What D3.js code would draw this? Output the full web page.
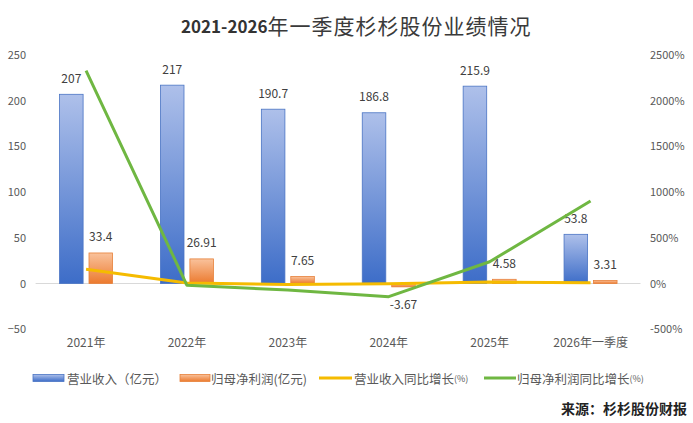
<!DOCTYPE html>
<html>
<head>
<meta charset="utf-8">
<script src="https://cdn.jsdelivr.net/npm/d3@7"></script>
<style>
  body { margin: 0; background: #fff; }
  svg { display: block; font-family: "Noto Sans CJK SC", "Noto Sans", sans-serif; }
</style>
</head>
<body>
<div id="chart"></div>
<script>
const categories = ['2021年', '2022年', '2023年', '2024年', '2025年', '2026年一季度']
const revenue = [207, 217, 190.7, 186.8, 215.9, 53.8]
const netProfit = [33.4, 26.91, 7.65, -3.67, 4.58, 3.31]
const revenueGrowth = [155, 4.8, -12.1, -2, 15.6, 8]
const profitGrowth = [2330, -19.4, -71.6, -144, 238, 903]
const leftTicks = [-50, 0, 50, 100, 150, 200, 250]
const rightTicks = [-500, 0, 500, 1000, 1500, 2000, 2500]

const W = 693, H = 423
const MARGIN = { LEFT: 35.6, RIGHT: 52, TOP: 55, BOTTOM: 93.8 }

const svg = d3.select('#chart').append('svg')
  .attr('width', W).attr('height', H)

const defs = svg.append('defs')
function gradient(id, top, bottom) {
  const g = defs.append('linearGradient').attr('id', id)
    .attr('x1', 0).attr('y1', 0).attr('x2', 0).attr('y2', 1)
  g.append('stop').attr('offset', '0%').attr('stop-color', top)
  g.append('stop').attr('offset', '100%').attr('stop-color', bottom)
}
gradient('blueGrad', '#aec0ea', '#3d6dc8')
gradient('orangeGrad', '#f9c29c', '#ec7a2e')

const x = d3.scaleBand()
  .domain(categories)
  .range([MARGIN.LEFT, W - MARGIN.RIGHT])
  .paddingInner(0).paddingOuter(0)

const sub = d3.scaleBand()
  .domain(['rev', 'np'])
  .range([-26.5, 26.5])
  .paddingInner(0.2)

const y = d3.scaleLinear().domain([-50, 250]).range([H - MARGIN.BOTTOM, MARGIN.TOP])
const y2 = d3.scaleLinear().domain([-500, 2500]).range([H - MARGIN.BOTTOM, MARGIN.TOP])

const cx = d => x(d) + x.bandwidth() / 2

// title: bold digits, lighter CJK part
const title = svg.append('text')
  .attr('x', 181).attr('y', 25)
  .attr('dominant-baseline', 'central').attr('fill', '#333')
title.append('tspan').attr('font-size', '17px').attr('font-weight', 'bold').text('2021-2026')
title.append('tspan').attr('font-size', '21px').attr('letter-spacing', '1px').attr('fill', '#3a3a3a')
  .text('年一季度杉杉股份业绩情况')

// zero line
svg.append('line')
  .attr('x1', MARGIN.LEFT).attr('x2', W - MARGIN.RIGHT - 0.5)
  .attr('y1', y(0)).attr('y2', y(0))
  .attr('stroke', '#d9d9d9').attr('stroke-width', 1)

// left axis
const yAxis = svg.append('g')
  .attr('transform', 'translate(26,0)')
  .call(d3.axisLeft(y).tickValues(leftTicks).tickSize(0).tickPadding(0))
yAxis.select('.domain').remove()
yAxis.selectAll('text').attr('font-size', '11px').attr('fill', '#595959')
  .attr('font-family', '"Noto Sans CJK SC", sans-serif')

// right axis
const y2Axis = svg.append('g')
  .attr('transform', 'translate(650,0)')
  .call(d3.axisRight(y2).tickValues(rightTicks).tickSize(0).tickPadding(0).tickFormat(d => d + '%'))
y2Axis.select('.domain').remove()
y2Axis.selectAll('text').attr('font-size', '11px').attr('fill', '#595959')
  .attr('font-family', '"Noto Sans CJK SC", sans-serif')

// category axis
const xAxis = svg.append('g')
  .attr('transform', `translate(0, ${y(-50) + 9})`)
  .call(d3.axisBottom(x).tickSize(0).tickPadding(0))
xAxis.select('.domain').remove()
xAxis.selectAll('text').attr('font-size', '12px').attr('fill', '#595959')
  .attr('font-family', '"Noto Sans CJK SC", sans-serif')

// bars
svg.selectAll('.bar-rev').data(revenue).enter().append('rect')
  .attr('class', 'bar-rev')
  .attr('x', (d, i) => cx(categories[i]) + sub('rev'))
  .attr('width', sub.bandwidth())
  .attr('y', d => y(Math.max(0, d)))
  .attr('height', d => Math.abs(y(d) - y(0)))
  .attr('fill', 'url(#blueGrad)').attr('stroke', '#4a74c4').attr('stroke-width', 0.8)

svg.selectAll('.bar-np').data(netProfit).enter().append('rect')
  .attr('class', 'bar-np')
  .attr('x', (d, i) => cx(categories[i]) + sub('np'))
  .attr('width', sub.bandwidth())
  .attr('y', d => y(Math.max(0, d)))
  .attr('height', d => Math.abs(y(d) - y(0)))
  .attr('fill', 'url(#orangeGrad)').attr('stroke', '#e7803a').attr('stroke-width', 0.8)

// bar labels
function barLabels(data, key, cls) {
  svg.selectAll('.' + cls).data(data).enter().append('text')
    .attr('class', cls)
    .attr('x', (d, i) => cx(categories[i]) + sub(key) + sub.bandwidth() / 2)
    .attr('y', d => d >= 0 ? y(d) - 17 : y(d) + 17)
    .attr('text-anchor', 'middle').attr('dominant-baseline', 'central')
    .attr('font-size', '12px').attr('fill', '#404040')
    .text(d => d)
}
barLabels(revenue, 'rev', 'lbl-rev')
barLabels(netProfit, 'np', 'lbl-np')

// lines
const line = d3.line()
  .x((d, i) => cx(categories[i]))
  .y(d => y2(d))

svg.append('path').datum(revenueGrowth)
  .attr('d', line).attr('fill', 'none')
  .attr('stroke', '#f5bb00').attr('stroke-width', 3).attr('stroke-linejoin', 'round')

svg.append('path').datum(profitGrowth)
  .attr('d', line).attr('fill', 'none')
  .attr('stroke', '#6fb742').attr('stroke-width', 3).attr('stroke-linejoin', 'round')

// legend
const legendY = 378
const legend = [
  { type: 'rect', x: 33, w: 31, fill: 'url(#blueGrad)', stroke: '#4a74c4', label: '营业收入（亿元）', tx: 67 },
  { type: 'rect', x: 180, w: 30, fill: 'url(#orangeGrad)', stroke: '#e7803a', label: '归母净利润(亿元)', tx: 211 },
  { type: 'line', x: 319, w: 33, stroke: '#f5bb00', label: '营业收入同比增长', tx: 354 },
  { type: 'line', x: 484, w: 32, stroke: '#6fb742', label: '归母净利润同比增长', tx: 517 }
]
legend.forEach(l => {
  if (l.type === 'rect') {
    svg.append('rect').attr('x', l.x).attr('y', legendY - 3.5).attr('width', l.w).attr('height', 7)
      .attr('fill', l.fill).attr('stroke', l.stroke).attr('stroke-width', 0.8)
  } else {
    svg.append('line').attr('x1', l.x).attr('x2', l.x + l.w).attr('y1', legendY).attr('y2', legendY)
      .attr('stroke', l.stroke).attr('stroke-width', 3)
  }
  const t = svg.append('text').attr('x', l.tx).attr('y', legendY)
    .attr('dominant-baseline', 'central').attr('font-size', '12.5px').attr('fill', '#595959')
    .text(l.label)
  if (l.type === 'line') {
    t.append('tspan').attr('font-size', '9px').text('(%)')
  }
})

// source
svg.append('text')
  .attr('x', 687).attr('y', 408)
  .attr('text-anchor', 'end').attr('dominant-baseline', 'central')
  .attr('font-size', '14px').attr('font-weight', 'bold').attr('fill', '#222')
  .text('来源：杉杉股份财报')
</script>
</body>
</html>
